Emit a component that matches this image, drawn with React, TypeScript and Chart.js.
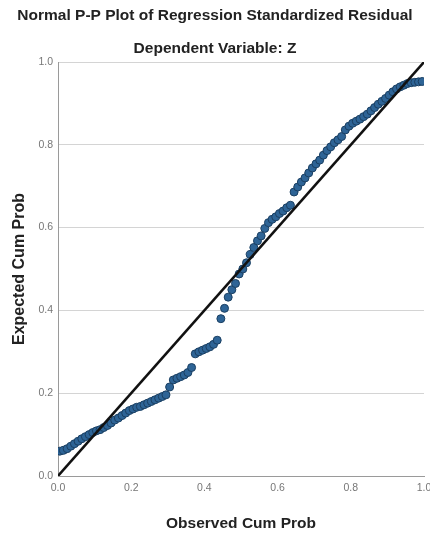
import React, { useEffect, useRef } from "react";
import { Chart, registerables } from "chart.js";

Chart.register(...registerables);

const TITLE = "Normal P-P Plot of Regression Standardized Residual";
const SUBTITLE = "Dependent Variable: Z";
const X_TITLE = "Observed Cum Prob";
const Y_TITLE = "Expected Cum Prob";

const observed = [
  0.005, 0.015, 0.025, 0.035, 0.045, 0.055, 0.065, 0.075, 0.085, 0.095,
  0.105, 0.115, 0.125, 0.135, 0.145, 0.155, 0.165, 0.175, 0.185, 0.195,
  0.205, 0.215, 0.225, 0.235, 0.245, 0.255, 0.265, 0.275, 0.285, 0.295,
  0.305, 0.315, 0.325, 0.335, 0.345, 0.355, 0.365, 0.375, 0.385, 0.395,
  0.405, 0.415, 0.425, 0.435, 0.445, 0.455, 0.465, 0.475, 0.485, 0.495,
  0.505, 0.515, 0.525, 0.535, 0.545, 0.555, 0.565, 0.575, 0.585, 0.595,
  0.605, 0.615, 0.625, 0.635, 0.645, 0.655, 0.665, 0.675, 0.685, 0.695,
  0.705, 0.715, 0.725, 0.735, 0.745, 0.755, 0.765, 0.775, 0.785, 0.795,
  0.805, 0.815, 0.825, 0.835, 0.845, 0.855, 0.865, 0.875, 0.885, 0.895,
  0.905, 0.915, 0.925, 0.935, 0.945, 0.955, 0.965, 0.975, 0.985, 0.995,
];

const expected = [
  0.060, 0.062, 0.066, 0.072, 0.078, 0.084, 0.090, 0.095, 0.100, 0.105,
  0.109, 0.112, 0.117, 0.122, 0.128, 0.135, 0.140, 0.146, 0.152, 0.158,
  0.162, 0.166, 0.168, 0.172, 0.176, 0.180, 0.184, 0.188, 0.192, 0.196,
  0.215, 0.232, 0.236, 0.240, 0.244, 0.250, 0.262, 0.295, 0.300, 0.304,
  0.308, 0.312, 0.318, 0.328, 0.380, 0.405, 0.432, 0.450, 0.465, 0.488,
  0.500, 0.515, 0.535, 0.552, 0.568, 0.580, 0.598, 0.612, 0.620, 0.626,
  0.634, 0.640, 0.648, 0.654, 0.686, 0.698, 0.710, 0.720, 0.732, 0.744,
  0.754, 0.763, 0.775, 0.786, 0.795, 0.805, 0.812, 0.820, 0.836, 0.845,
  0.852, 0.857, 0.862, 0.868, 0.874, 0.882, 0.890, 0.898, 0.905, 0.912,
  0.920, 0.928, 0.935, 0.940, 0.944, 0.948, 0.950, 0.951, 0.952, 0.953,
];

const refLineX = [0, 1];
const refLineY = [0, 1];

export default function App() {
  const ref = useRef<HTMLCanvasElement | null>(null);

  useEffect(() => {
    document.body.style.margin = "0";
    const canvas = ref.current;
    if (!canvas) return;
    const points = observed.map((x, i) => ({ x, y: expected[i] }));
    const line = refLineX.map((x, i) => ({ x, y: refLineY[i] }));
    const font = "'Liberation Sans', Arial, sans-serif";
    const chart = new Chart(canvas, {
      type: "scatter",
      data: {
        datasets: [
          {
            type: "line",
            data: line,
            borderColor: "#111111",
            borderWidth: 2.5,
            pointRadius: 0,
            fill: false,
            order: 0,
          },
          {
            type: "scatter",
            data: points,
            backgroundColor: "#2e6496",
            borderColor: "#1a3f62",
            borderWidth: 1,
            pointRadius: 4,
            order: 1,
          },
        ],
      },
      options: {
        animation: false,
        responsive: false,
        maintainAspectRatio: false,
        layout: { padding: { left: 6, right: 6, top: 0, bottom: 0 } },
        plugins: {
          legend: { display: false },
          tooltip: { enabled: false },
          title: {
            display: true,
            text: TITLE,
            color: "#222",
            font: { family: font, size: 15.5, weight: "bold" },
            padding: { top: 6.7, bottom: 7 },
          },
          subtitle: {
            display: true,
            text: SUBTITLE,
            color: "#222",
            font: { family: font, size: 15.5, weight: "bold" },
            padding: { top: 7.4, bottom: 3.7 },
          },
        },
        scales: {
          x: {
            type: "linear",
            min: 0,
            max: 1,
            ticks: {
              stepSize: 0.2,
              padding: 5.7,
              color: "#777",
              font: { family: font, size: 10.5 },
              callback: (v: any) => Number(v).toFixed(1),
            },
            grid: { display: false, drawTicks: false },
            border: { display: true, color: "#9a9a9a", width: 1 },
            title: {
              display: true,
              text: X_TITLE,
              color: "#222",
              font: { family: font, size: 15.5, weight: "bold" },
              padding: { top: 2, bottom: 0.7 },
            },
            afterFit: (axis: any) => {
              axis.height = 58;
              axis.paddingLeft = 0;
              axis.paddingRight = 0;
            },
          },
          y: {
            type: "linear",
            min: 0,
            max: 1,
            ticks: {
              stepSize: 0.2,
              padding: 5,
              color: "#777",
              font: { family: font, size: 10.5 },
              callback: (v: any) => Number(v).toFixed(1),
            },
            grid: { display: true, drawTicks: false, color: "#d4d4d4", lineWidth: 1 },
            border: { display: true, color: "#9a9a9a", width: 1 },
            title: {
              display: true,
              text: Y_TITLE,
              color: "#222",
              font: { family: font, size: 16, weight: "bold" },
              padding: { top: 3.5, bottom: 2 },
            },
            afterFit: (axis: any) => {
              axis.width = 52;
              axis.paddingTop = 0;
              axis.paddingBottom = 0;
            },
          },
        },
      },
    });
    return () => chart.destroy();
  }, []);

  return (
    <div style={{ width: 430, height: 534, background: "#fff" }}>
      <canvas ref={ref} width={430} height={534} style={{ display: "block" }} />
    </div>
  );
}
